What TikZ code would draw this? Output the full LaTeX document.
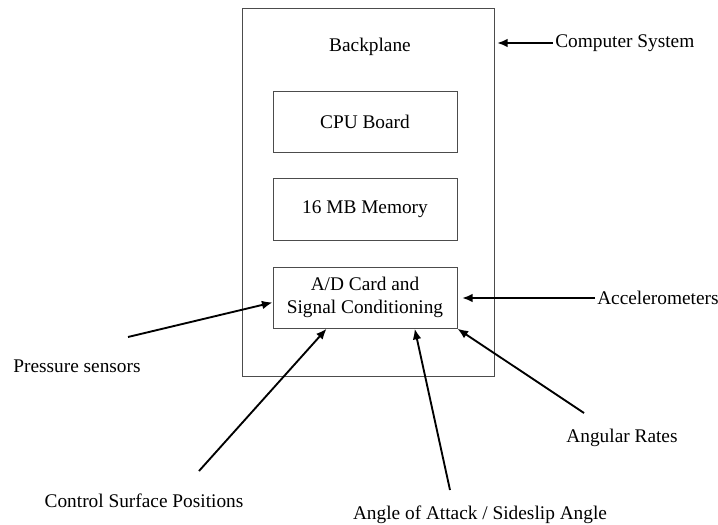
\documentclass[tikz,border=0pt]{standalone}
\usepackage{fontspec}
\setmainfont{Liberation Serif}
\usepackage{xcolor}
\usetikzlibrary{positioning,arrows.meta}
\definecolor{boxlinecolor}{gray}{0.3}

\begin{document}
\begin{tikzpicture}[x=0.75pt,y=-0.75pt,
    font=\fontsize{14.5}{17}\selectfont,
    board/.style={draw=boxlinecolor,line width=0.6pt,minimum width=138pt,minimum height=46pt,inner sep=0pt,align=center},
    feed/.style={-{Latex[length=8pt,width=6.5pt]},line width=1.4pt}]
    \useasboundingbox (0,0) rectangle (718,525);

    \node [draw=boxlinecolor,line width=0.6pt,minimum width=189pt,minimum height=276pt] (sys) at (368,192) {};
    \node (backplane) at (370,47) {Backplane};

    \node [board] (cpu) at (365,122) {CPU Board};
    \node [board,below=19pt of cpu] (mem) {16 MB Memory};
    \node [board,below=19.5pt of mem] (ad) {A/D Card and\\Signal Conditioning};

    % sources
    \node [anchor=west,inner xsep=1.5pt] (cs) at (553,43) {Computer System};
    \node [anchor=west,inner xsep=1.5pt] (acc) at (595,298) {Accelerometers};
    \node (rates) at (622,438) {Angular Rates};
    \node (aoa) at (480,515) {Angle of Attack / Sideslip Angle};
    \node (press) at (77,366) {Pressure sensors};
    \node (surf) at (144,501) {Control Surface Positions};

    \coordinate (pressend) at (128,337);
    \coordinate (surfend) at (199,471);
    \coordinate (aoaend) at (450,490);
    \coordinate (ratesend) at (584,413);

    \draw [feed,shorten >=2pt] (cs.west) -- (sys.east |- cs.west);
    \draw [feed,shorten >=3.5pt] (acc.west) -- (ad.east |- acc.west);
    \draw [feed] (ratesend) -- (ad.south east);
    \draw [feed] (aoaend) -- (ad.328);
    \draw [feed] (surfend) -- (ad.219);
    \draw [feed] (pressend) -- (ad.183);
\end{tikzpicture}
\end{document}
